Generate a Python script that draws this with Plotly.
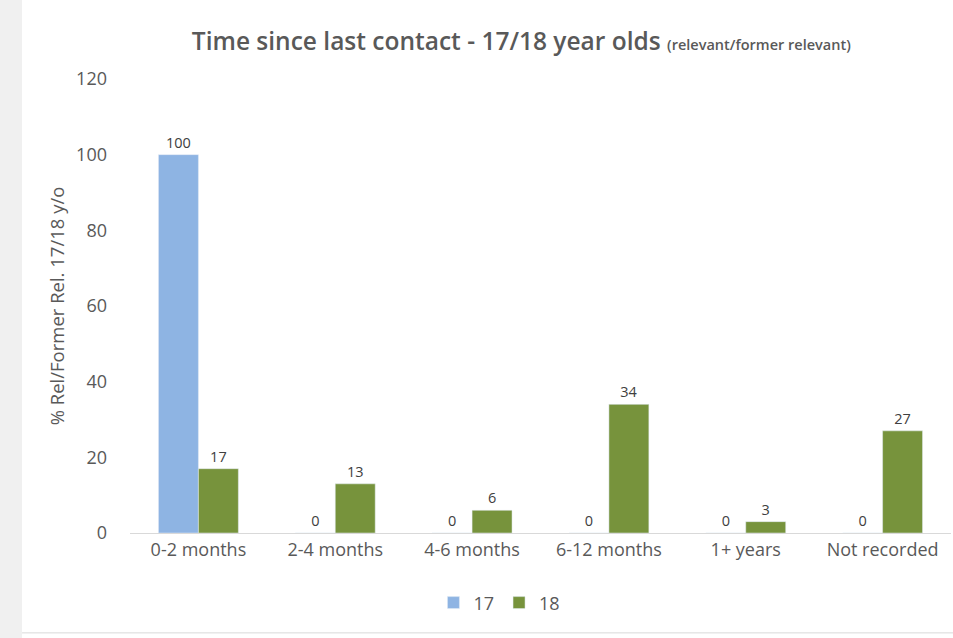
import plotly.graph_objects as go

categories = ["0-2 months", "2-4 months", "4-6 months", "6-12 months", "1+ years", "Not recorded"]
series_17 = [100, 0, 0, 0, 0, 0]
series_18 = [17, 13, 6, 34, 3, 27]
y_ticks = [0, 20, 40, 60, 80, 100, 120]

FONT = "Open Sans"
fig = go.Figure()
fig.add_trace(go.Bar(name="17", x=categories, y=series_17, marker_color="#8EB4E3",
                     text=[str(v) for v in series_17], textposition="outside", cliponaxis=False,
                     textfont=dict(size=14.5, color="#404040", family=FONT)))
fig.add_trace(go.Bar(name="18", x=categories, y=series_18, marker_color="#77933C",
                     text=[str(v) for v in series_18], textposition="outside", cliponaxis=False,
                     textfont=dict(size=14.5, color="#404040", family=FONT)))

fig.update_layout(
    width=953, height=638,
    margin=dict(l=130, r=1.5, t=79, b=105),
    paper_bgcolor="white", plot_bgcolor="white",
    barmode="group", bargap=0.416, bargroupgap=0,
    font=dict(family=FONT, color="#595959", size=16),
    title=dict(text="Time since last contact - 17/18 year olds <span style='font-size:14.5px'>(relevant/former relevant)</span>",
               x=0.547, xanchor="center", xref="container", y=0.935, yanchor="middle",
               font=dict(size=24.5, color="#595959", family=FONT, weight=600)),
    xaxis=dict(showline=True, linecolor="#D9D9D9", linewidth=1, ticks="", showgrid=False,
               tickfont=dict(size=18, color="#595959")),
    yaxis=dict(range=[0, 120], tickvals=y_ticks, showgrid=False, zeroline=False, showline=False,
               ticks="", ticklabelstandoff=22, tickfont=dict(size=18, color="#595959"),
               title=dict(text="% Rel/Former Rel. 17/18 y/o", standoff=6,
                          font=dict(size=18.5, color="#595959"))),
    legend=dict(orientation="h", x=0.45, xanchor="center", y=-0.154, yanchor="middle",
                font=dict(size=18, color="#595959"), itemwidth=30, traceorder="normal"),
    showlegend=True,
    shapes=[
        dict(type="rect", xref="paper", yref="paper", x0=-0.16, x1=-0.1315, y0=-0.3, y1=1.2,
             fillcolor="#F0F0F0", line=dict(width=0), layer="below"),
        dict(type="line", xref="paper", yref="paper", x0=-0.1315, x1=1.01, y0=-0.22, y1=-0.22,
             line=dict(color="#D9D9D9", width=1)),
    ],
)

fig.write_html("out.html", config={"displayModeBar": False},
               post_script="document.body.style.margin='0';document.body.style.padding='0';")
